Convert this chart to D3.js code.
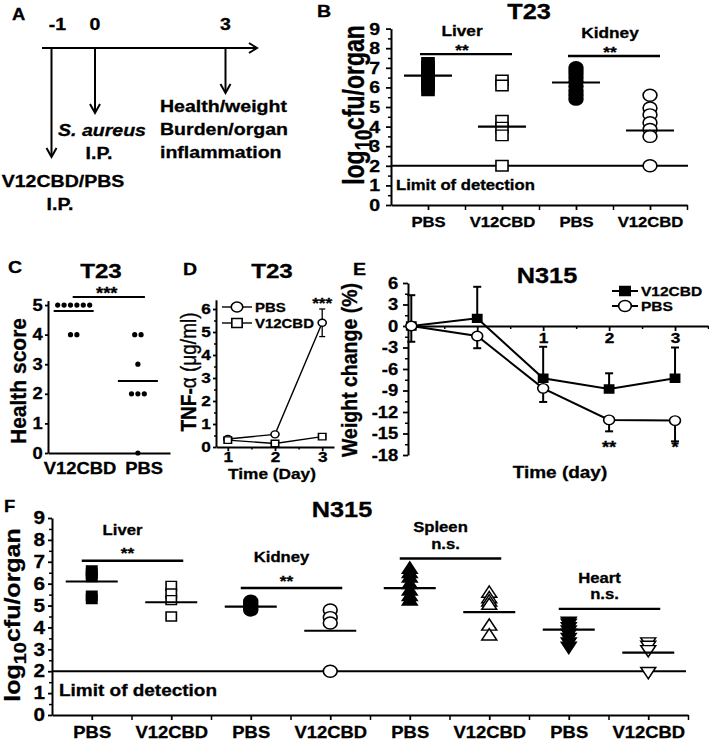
<!DOCTYPE html>
<html><head><meta charset="utf-8">
<script src="https://cdn.jsdelivr.net/npm/d3@7/dist/d3.min.js"></script>
<style>body{margin:0;background:#fff}svg{display:block;background:#fff}svg text{stroke:#000;stroke-width:0.3px}</style>
</head><body>
<svg id="chart" width="709" height="741"></svg>
<script>
// ================= DATA =================
// Panel A: timeline
const timelineDays = [-1, 0, 3];
const timelineEvents = [["V12CBD/PBS", "I.P."], ["S. aureus", "I.P."], ["Health/weight", "Burden/organ", "inflammation"]];

// Panel B: T23 bacterial burden
const bCategories = ["PBS", "V12CBD", "PBS", "V12CBD"];
const bOrgans = ["Liver", "Kidney"];
const bSig = ["**", "**"];
const bSigLevels = [7.7, 7.6];
const bYTicks = [0, 1, 2, 3, 4, 5, 6, 7, 8, 9];
const bLiverPBS = [7.25, 7.05, 6.85, 6.65, 6.45, 6.25, 6.05, 5.85];
const bLiverV12CBD = [6.35, 6.1, 4.3, 3.95, 3.55, 2.0];
const bKidneyPBS = [7.0, 6.85, 6.7, 6.5, 6.3, 6.05, 5.8, 5.6, 5.4];
const bKidneyV12CBD = [5.6, 4.95, 4.6, 4.2, 3.85, 3.5, 2.0];
const bMeans = [6.6, 4.0, 6.25, 3.8];
const detectionLimit = 2;

// Panel C: health score
const cCategories = ["V12CBD", "PBS"];
const cV12CBD = [5, 5, 5, 5, 5, 5, 4, 4];
const cPBS = [4, 4, 3, 2, 2, 2, 0];
const cMeans = [4.8, 2.43];
const cSig = "***";
const cSigLevel = 5.27;
const cYTicks = [0, 1, 2, 3, 4, 5];

// Panel D: TNF-alpha
const dDays = [1, 2, 3];
const dPBS = [0.35, 0.55, 5.4];
const dPBSErr = [0.1, 0.05, 0.6];
const dV12CBD = [0.3, 0.15, 0.45];
const dV12CBDErr = [0.08, 0.04, 0.05];
const dYTicks = [0, 1, 2, 3, 4, 5, 6];
const dSig = ["", "", "***"];

// Panel E: weight change N315
const eDays = [-1, 0, 1, 2, 3];
const eV12CBD = [0, 1.07, -7.3, -8.8, -7.3];
const eV12CBDErr = [4.3, 4.4, 4.4, 2.2, 4.3];
const ePBS = [0, -1.4, -8.7, -13.1, -13.2];
const ePBSErr = [2.2, 1.7, 1.9, 1.6, 2.9];
const eSig = ["", "", "", "**", "*"];
const eYTicks = [-18, -15, -12, -9, -6, -3, 0, 3, 6];
const eXTickLabels = [1, 2, 3];

// Panel F: N315 bacterial burden
const fCategories = ["PBS", "V12CBD", "PBS", "V12CBD", "PBS", "V12CBD", "PBS", "V12CBD"];
const fOrgans = ["Liver", "Kidney", "Spleen", "Heart"];
const fSig = ["**", "**", "n.s.", "n.s."];
const fSigLevels = [7.05, 5.8, 7.15, 4.85];
const fYTicks = [0, 1, 2, 3, 4, 5, 6, 7, 8, 9];
const fLiverPBS = [6.6, 6.45, 6.3, 5.45, 5.3];
const fLiverV12CBD = [5.9, 5.55, 5.25, 4.5];
const fKidneyPBS = [5.2, 5.1, 5.0, 4.95, 4.85, 4.8];
const fKidneyV12CBD = [4.8, 4.45, 4.2, 2.0];
const fSpleenPBS = [6.65, 6.45, 6.25, 5.95, 5.65, 5.4, 5.2];
const fSpleenV12CBD = [5.55, 5.3, 5.15, 5.0, 4.05, 3.6];
const fHeartPBS = [4.3, 4.2, 4.05, 3.9, 3.75, 3.55, 3.35, 3.15];
const fHeartV12CBD = [3.35, 3.2, 3.0, 2.0];
const fMeans = [6.1, 5.15, 4.95, 3.85, 5.8, 4.7, 3.9, 2.85];

// ================= HELPERS =================
const FONT = '"Liberation Sans", Arial, Helvetica, sans-serif';
const SX = 1.15; // horizontal stretch of the original figure
const svg = d3.select("#chart");
const root = svg.append("g");

function T(g, x, y, s, fs, anchor, opt) {
  opt = opt || {};
  const sx = opt.sx || SX;
  const t = g.append("text")
    .attr("transform", `translate(${x},${y}) scale(${sx},1)` + (opt.rot ? ` rotate(${opt.rot})` : ""))
    .attr("text-anchor", anchor || "middle")
    .attr("font-family", FONT).attr("font-size", fs).attr("font-weight", "bold").attr("fill", "#000");
  if (opt.italic) t.attr("font-style", "italic");
  if (s !== null) t.text(s);
  return t;
}
function L(g, x1, y1, x2, y2, w) {
  return g.append("line").attr("x1", x1).attr("y1", y1).attr("x2", x2).attr("y2", y2)
    .attr("stroke", "#000").attr("stroke-width", w || 2);
}
function marker(g, type, filled, x, y, s) {
  let sym = d3.symbolSquare, area = s * s, rot = 0;
  if (type === "circle") { sym = d3.symbolCircle; area = Math.PI * s * s / 4; }
  else if (type === "triUp" || type === "triDown") { sym = d3.symbolTriangle; area = Math.sqrt(3) / 4 * s * s; rot = type === "triDown" ? 180 : 0; }
  g.append("path").attr("d", d3.symbol(sym, area)())
    .attr("transform", `translate(${x},${y}) scale(${SX},1) rotate(${rot})`)
    .attr("fill", filled ? "#000" : "#fff").attr("stroke", "#000").attr("stroke-width", 1.4);
}
function axis(g, ax, tr, fs) {
  const a = g.append("g").attr("transform", tr).call(ax);
  a.attr("font-family", FONT).attr("font-size", fs).attr("font-weight", "bold");
  a.select(".domain").attr("stroke", "#000").attr("stroke-width", 2);
  a.selectAll(".tick line").attr("stroke", "#000").attr("stroke-width", 1.8);
  a.selectAll(".tick text").attr("fill", "#000").attr("transform", `scale(${SX},1)`);
  return a;
}
function minor(g, ax, tr) {
  const a = g.append("g").attr("transform", tr).call(ax.tickFormat(() => ""));
  a.select(".domain").remove();
  a.selectAll(".tick line").attr("stroke", "#000").attr("stroke-width", 1.5);
  return a;
}
function logTitle(g, x, y, fs, sx) {
  const t = T(g, x, y, null, fs, "middle", { rot: -90, sx: sx });
  t.append("tspan").text("log");
  t.append("tspan").attr("font-size", fs * 0.8).attr("dy", fs * 0.28).text("10");
  t.append("tspan").attr("dy", -fs * 0.28).text("cfu/organ");
}
const halfSteps = (a, b) => d3.range(a, b + 0.001, 1).map(v => v + 0.5);

// ================= PANEL A =================
{
  const g = root.append("g");
  const x = d3.scaleLinear().domain([-1, 3]).range([51.5, 225.5]);
  const yL = 48;
  T(g, 12, 20, "A", 16, "start");
  L(g, 42, yL, 256, yL, 2);
  g.append("polyline").attr("points", `249,43 257,${yL} 249,53`).attr("fill", "none").attr("stroke", "#000").attr("stroke-width", 2);
  const arrowLen = [109, 65, 45];
  const lblDx = [6, 0, 0];
  const evX = [63, 102, 160], evY = [187, 136, 112], evAnchor = ["middle", "middle", "start"];
  timelineDays.forEach((d, i) => {
    const xx = x(d), y2 = yL + arrowLen[i];
    L(g, xx, yL, xx, y2 - 1, 2);
    g.append("polyline").attr("points", `${xx - 5},${y2 - 9} ${xx},${y2} ${xx + 5},${y2 - 9}`)
      .attr("fill", "none").attr("stroke", "#000").attr("stroke-width", 2);
    T(g, xx + lblDx[i], 30, String(d), 17, "middle");
    timelineEvents[i].forEach((s, j) => {
      const ex = evAnchor[i] === "middle" && j > 0 ? evX[i] - 3 : evX[i];
      T(g, ex, evY[i] + j * 23, s, 17, evAnchor[i], { italic: s.startsWith("S. aureus") });
    });
  });
}

// ================= PANEL B =================
{
  const g = root.append("g");
  const x = d3.scaleLinear().domain([-0.5, 3.5]).range([391, 687]);
  const y = d3.scaleLinear().domain([0, 9]).range([205, 28.6]);
  T(g, 317, 17, "B", 17, "start");
  T(g, 529, 19, "T23", 22);
  axis(g, d3.axisLeft(y).tickValues(bYTicks).tickSize(5).tickPadding(4.5).tickSizeOuter(0).tickFormat(d => String(d)), "translate(391,0)", 17);
  minor(g, d3.axisLeft(y).tickValues(halfSteps(0, 8)).tickSize(3), "translate(391,0)");
  axis(g, d3.axisBottom(x).tickValues([0, 1, 2, 3]).tickSize(5).tickPadding(7).tickSizeOuter(0).tickFormat(i => bCategories[i]), "translate(0,205)", 14.5);
  minor(g, d3.axisBottom(x).tickValues([0.5, 1.5, 2.5, 3.5]).tickSize(5), "translate(0,205)");
  logTitle(g, 364, 105, 23, 1.25);
  L(g, 391, y(detectionLimit), 688, y(detectionLimit), 2);
  T(g, 396, 190, "Limit of detection", 14.5, "start");
  const groups = [bLiverPBS, bLiverV12CBD, bKidneyPBS, bKidneyV12CBD];
  const shapes = ["square", "square", "circle", "circle"], filled = [true, false, true, false];
  const sizes = [10.5, 10.5, 12, 12];
  groups.forEach((vals, i) => vals.forEach(v => marker(g, shapes[i], filled[i], x(i), y(v), sizes[i])));
  bMeans.forEach((m, i) => L(g, x(i) - 24, y(m), x(i) + 24, y(m), 2.2));
  bOrgans.forEach((o, k) => {
    const a = 2 * k, b = 2 * k + 1, yy = y(bSigLevels[k]), mid = (x(a) + x(b)) / 2;
    L(g, x(a) - 8, yy, x(b) + 10, yy, 2.4);
    T(g, mid - 3, yy - 18, o, 15);
    T(g, mid - 3, yy + 1, bSig[k], 15);
  });
}

// ================= PANEL C =================
{
  const g = root.append("g");
  const x = d3.scaleLinear().domain([-0.4, 1.5]).range([48, 170]);
  const y = d3.scaleLinear().domain([0, 5.15]).range([453, 300.6]);
  T(g, 8, 273, "C", 17, "start");
  T(g, 101, 278, "T23", 21);
  axis(g, d3.axisLeft(y).tickValues(cYTicks).tickSize(3).tickPadding(1.5).tickSizeOuter(0).tickFormat(d => String(d)), "translate(48,0)", 16);
  const xa = axis(g, d3.axisBottom(x).tickValues([0, 1]).tickSize(0).tickPadding(10).tickSizeOuter(0).tickFormat(i => cCategories[i]), "translate(0,453)", 16);
  xa.selectAll(".tick text").attr("x", 5);
  T(g, 26, 381, "Health score", 21, "middle", { rot: -90, sx: 1.05 });
  [cV12CBD, cPBS].forEach((vals, i) => {
    const byVal = d3.group(vals, v => v);
    byVal.forEach((arr, v) => {
      arr.forEach((_, j) => {
        g.append("circle").attr("cx", x(i) + (j - (arr.length - 1) / 2) * 6.4).attr("cy", y(v)).attr("r", 2.6).attr("fill", "#000");
      });
    });
  });
  cMeans.forEach((m, i) => L(g, x(i) - 20, y(m), x(i) + 20, y(m), 2));
  const sy = y(cSigLevel);
  L(g, x(0) - 1, sy, x(1) + 7, sy, 2);
  T(g, (x(0) + x(1)) / 2 + 1, sy + 2, cSig, 16);
}

// ================= PANEL D =================
{
  const g = root.append("g");
  const x = d3.scaleLinear().domain([0.75, 3.25]).range([216, 334]);
  const y = d3.scaleLinear().domain([0, 6.4]).range([447, 299.8]);
  T(g, 183, 275, "D", 17, "start");
  T(g, 272, 278, "T23", 21);
  axis(g, d3.axisLeft(y).tickValues(dYTicks).tickSize(3).tickPadding(1.5).tickSizeOuter(0).tickFormat(d => String(d)), "translate(216,0)", 15);
  minor(g, d3.axisLeft(y).tickValues(halfSteps(0, 5)).tickSize(2), "translate(216,0)");
  axis(g, d3.axisBottom(x).tickValues(dDays).tickSize(4).tickPadding(0).tickSizeOuter(0).tickFormat(d => String(d)), "translate(0,447)", 15);
  minor(g, d3.axisBottom(x).tickValues([1.5, 2.5]).tickSize(2.5), "translate(0,447)");
  const yt = T(g, 196, 372, null, 19, "middle", { rot: -90 });
  yt.append("tspan").text("TNF-");
  yt.append("tspan").attr("font-weight", "normal").text("α (μg/ml)");
  T(g, 272, 479, "Time (Day)", 15);
  const series = [[dPBS, dPBSErr, "circle", 7], [dV12CBD, dV12CBDErr, "square", 6.5]];
  series.forEach(([vals, errs]) => {
    vals.forEach((v, i) => {
      const xx = x(dDays[i]);
      L(g, xx, y(v - errs[i]), xx, y(v + errs[i]), 1.3);
      L(g, xx - 3, y(v + errs[i]), xx + 3, y(v + errs[i]), 1.3);
      L(g, xx - 3, y(v - errs[i]), xx + 3, y(v - errs[i]), 1.3);
    });
    g.append("path").datum(vals).attr("fill", "none").attr("stroke", "#000").attr("stroke-width", 1.4)
      .attr("d", d3.line().x((v, i) => x(dDays[i])).y(v => y(v)));
  });
  series.forEach(([vals, , shape, s]) => vals.forEach((v, i) => marker(g, shape, false, x(dDays[i]), y(v), s)));
  dSig.forEach((s, i) => { if (s) T(g, x(dDays[i]), y(dPBS[i] + dPBSErr[i]) - 1, s, 15); });
  // legend
  [["PBS", "circle", 307], ["V12CBD", "square", 323]].forEach(([lab, shape, ly]) => {
    L(g, 222, ly, 252, ly, 1.4);
    marker(g, shape, false, 237, ly, shape === "circle" ? 10 : 9);
    T(g, 255, ly + 5, lab, 13, "start");
  });
}

// ================= PANEL E =================
{
  const g = root.append("g");
  const x = d3.scaleLinear().domain([-1.05, 3.5]).range([408, 708]);
  const y = d3.scaleLinear().domain([-18, 6]).range([455, 283]);
  T(g, 353, 275, "E", 17, "start");
  T(g, 547, 283, "N315", 22);
  axis(g, d3.axisLeft(y).tickValues(eYTicks).tickSize(5).tickPadding(3.5).tickSizeOuter(0).tickFormat(d => String(d)), "translate(408,0)", 16);
  minor(g, d3.axisLeft(y).tickValues(eYTicks.slice(0, -1).map(v => v + 1.5)).tickSize(3), "translate(408,0)");
  axis(g, d3.axisBottom(x).tickValues(eDays).tickSize(5).tickPadding(1.5).tickSizeOuter(0).tickFormat(d => eXTickLabels.includes(d) ? String(d) : ""), `translate(0,${y(0)})`, 15);
  minor(g, d3.axisBottom(x).tickValues([-0.5, 0.5, 1.5, 2.5, 3.5]).tickSize(3), `translate(0,${y(0)})`);
  T(g, 357, 370, "Weight change (%)", 19.5, "middle", { rot: -90 });
  T(g, 560, 478, "Time (day)", 16.5);
  // error bars
  eDays.forEach((d, i) => {
    const xx = x(d);
    const top = y(eV12CBD[i] + eV12CBDErr[i]);
    L(g, xx, y(eV12CBD[i]), xx, top, 2); L(g, xx - 4, top, xx + 4, top, 2);
    const bot = y(ePBS[i] - ePBSErr[i]);
    L(g, xx, y(ePBS[i]), xx, bot, 2); L(g, xx - 4, bot, xx + 4, bot, 2);
  });
  [eV12CBD, ePBS].forEach(vals => g.append("path").datum(vals).attr("fill", "none").attr("stroke", "#000").attr("stroke-width", 2)
    .attr("d", d3.line().x((v, i) => x(eDays[i])).y(v => y(v))));
  eV12CBD.forEach((v, i) => marker(g, "square", true, x(eDays[i]), y(v), 8));
  ePBS.forEach((v, i) => marker(g, "circle", false, x(eDays[i]), y(v), 9.5));
  eSig.forEach((s, i) => { if (s) T(g, x(eDays[i]), y(-18) - 2, s, 16); });
  // legend
  [["V12CBD", "square", true, 291], ["PBS", "circle", false, 306]].forEach(([lab, shape, f, ly]) => {
    L(g, 612, ly, 638, ly, 2);
    marker(g, shape, f, 625, ly, shape === "circle" ? 11 : 9);
    T(g, 641, ly + 5, lab, 13.5, "start");
  });
}

// ================= PANEL F =================
{
  const g = root.append("g");
  const x = d3.scaleLinear().domain([-0.5, 7.5]).range([52, 688]);
  const y = d3.scaleLinear().domain([0, 9]).range([715, 518]);
  T(g, 4, 512, "F", 16, "start");
  T(g, 342, 517, "N315", 22);
  axis(g, d3.axisLeft(y).tickValues(fYTicks).tickSize(4).tickPadding(2).tickSizeOuter(0).tickFormat(d => String(d)), "translate(52,0)", 18);
  minor(g, d3.axisLeft(y).tickValues(halfSteps(0, 8)).tickSize(3), "translate(52,0)");
  axis(g, d3.axisBottom(x).tickValues(d3.range(8)).tickSize(5).tickPadding(6.5).tickSizeOuter(0).tickFormat(i => fCategories[i]), "translate(0,715)", 16);
  minor(g, d3.axisBottom(x).tickValues(d3.range(8).map(v => v + 0.5)).tickSize(5), "translate(0,715)");
  logTitle(g, 20, 615, 25, 0.85);
  L(g, 52, y(detectionLimit), 686, y(detectionLimit), 2);
  T(g, 59, 696, "Limit of detection", 16.5, "start");
  const groups = [fLiverPBS, fLiverV12CBD, fKidneyPBS, fKidneyV12CBD, fSpleenPBS, fSpleenV12CBD, fHeartPBS, fHeartV12CBD];
  const shapes = ["square", "square", "circle", "circle", "triUp", "triUp", "triDown", "triDown"];
  const sizes = [9, 9, 12, 12, 13, 13, 13, 13];
  groups.forEach((vals, i) => vals.forEach(v => marker(g, shapes[i], i % 2 === 0, x(i), y(v), sizes[i])));
  fMeans.forEach((m, i) => L(g, x(i) - 26, y(m), x(i) + 26, y(m), 2.2));
  fOrgans.forEach((o, k) => {
    const a = 2 * k, b = 2 * k + 1, yy = y(fSigLevels[k]), mid = (x(a) + x(b)) / 2;
    L(g, x(a) - 10, yy, x(b) + 12, yy, 2.4);
    T(g, mid - 9, yy - 26, o, 14.5);
    const isStar = fSig[k].startsWith("*");
    T(g, mid - 4, isStar ? yy - 2.5 : yy - 9.5, fSig[k], isStar ? 15 : 14.5);
  });
}
</script>
</body></html>
